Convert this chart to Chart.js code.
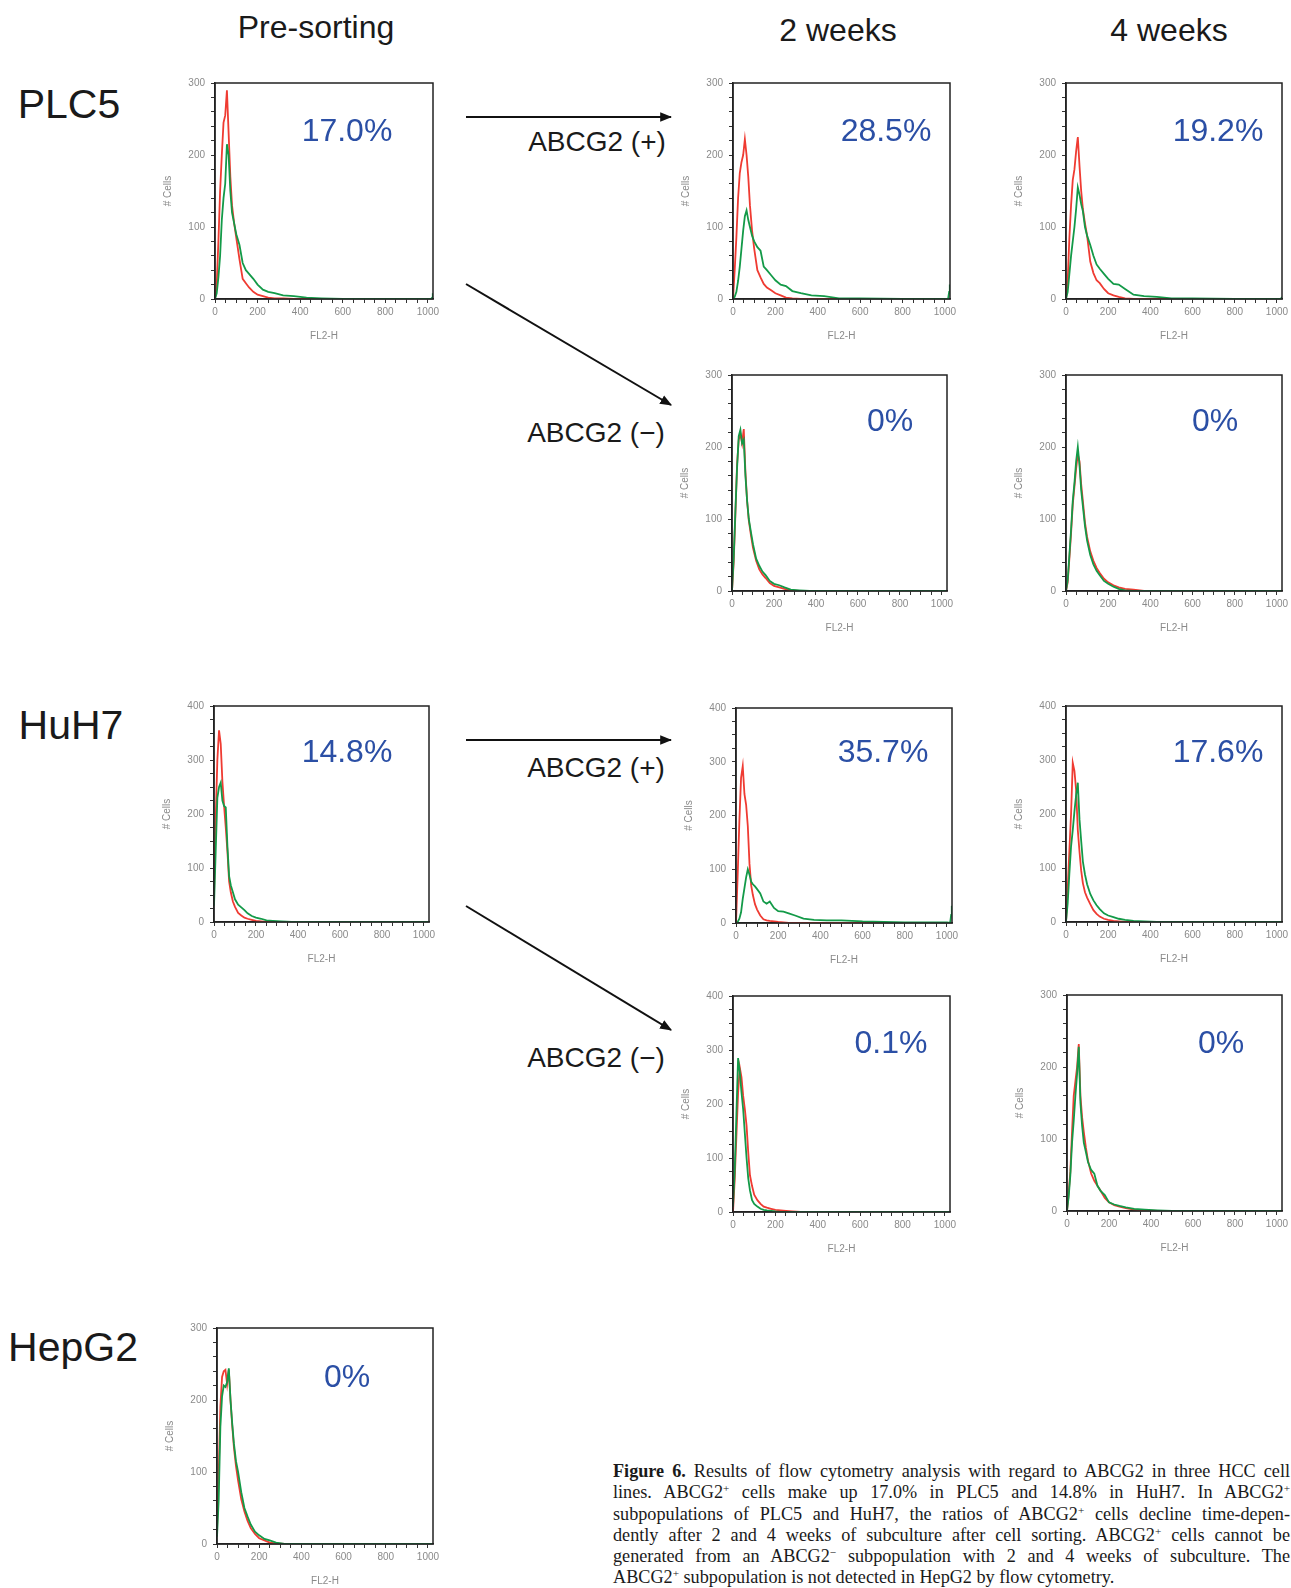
<!DOCTYPE html>
<html><head><meta charset="utf-8">
<script src="https://cdn.jsdelivr.net/npm/chart.js@4.4.1/dist/chart.umd.min.js"></script>
<style>
html,body{margin:0;padding:0;background:#fff;}
body{width:1291px;height:1588px;overflow:hidden;position:relative;font-family:"Liberation Sans",Arial,sans-serif;}
canvas{position:absolute;}
.c{position:absolute;transform:translate(-50%,-50%);white-space:nowrap;line-height:1;}
.hdr{font-size:32px;color:#1a1a1a;}
.row{font-size:41px;color:#1a1a1a;}
.arr{font-size:28px;color:#1a1a1a;}
.pct{font-size:32px;color:#2b4fa5;z-index:5;}
#cap{position:absolute;left:613px;top:1461px;width:677px;font-family:"Liberation Serif","DejaVu Serif",serif;font-size:18.2px;line-height:21.3px;color:#1a1a1a;}
#cap .j{text-align:justify;text-align-last:justify;}
#cap sup{font-size:0.62em;line-height:0;vertical-align:0.55em;}
svg{position:absolute;left:0;top:0;}
</style></head><body>

<script>
// ---------- DATA ----------
const channels = [0, 8, 16, 24, 32, 40, 48, 56, 64, 72, 80, 90, 100, 115, 130, 145, 160, 180, 200, 225, 250, 280, 320, 370, 430, 500, 600, 800, 1000, 1015, 1020, 1023];
const xTicks = [0, 200, 400, 600, 800, 1000];

const plc5PreRed     = [0,20,80,150,200,245,255,290,230,170,130,105,85,55,28,22,16,10,6,4,2,1,1,0,0,0,0,0,0,0,0,0];
const plc5PreGreen   = [0,8,30,60,110,140,160,215,200,150,120,105,90,75,50,40,35,28,20,13,10,8,5,4,2,1,0,0,0,0,2,8];
const plc5W2PosRed   = [0,40,86,140,175,190,200,222,200,170,130,95,70,40,30,21,16,12,8,5,2,1,0,0,0,0,0,0,0,0,0,0];
const plc5W2PosGreen = [0,3,10,25,45,70,95,115,123,110,100,88,80,72,67,45,40,33,26,20,18,11,8,5,4,1,1,0,0,0,10,20];
const plc5W4PosRed   = [0,25,85,130,165,180,205,225,185,150,125,105,88,52,36,26,22,14,8,5,3,1,0,0,0,0,0,0,0,0,0,0];
const plc5W4PosGreen = [0,10,35,60,80,100,125,155,145,132,122,100,88,75,60,48,42,35,28,21,20,14,6,4,3,1,1,0,0,0,1,3];
const plc5W2NegRed   = [0,40,105,175,210,218,205,225,165,125,98,78,60,42,30,23,18,11,7,5,3,1,0,0,0,0,0,0,0,0,0,0];
const plc5W2NegGreen = [0,45,110,170,215,224,205,210,160,125,100,82,65,45,35,27,22,14,10,8,5,2,1,0,0,0,0,0,0,0,0,0];
const plc5W4NegRed   = [0,12,45,80,120,145,170,190,180,148,125,95,75,55,42,32,25,17,12,8,5,3,2,0,0,0,0,0,0,0,0,0];
const plc5W4NegGreen = [0,15,50,85,125,150,180,200,175,140,118,90,70,50,37,28,22,14,10,6,3,1,0,0,0,0,0,0,0,0,0,0];
const huh7PreRed     = [50,190,300,355,330,260,215,175,130,75,55,38,28,17,12,8,6,4,2,1,0,0,0,0,0,0,0,0,0,0,0,0];
const huh7PreGreen   = [30,130,230,250,258,225,215,212,140,85,68,55,42,32,27,22,16,11,8,6,3,2,1,0,0,0,0,0,0,0,0,0];
const huh7W2PosRed   = [0,90,190,270,292,240,220,180,110,70,52,35,25,14,7,5,4,3,2,1,0,0,0,0,0,0,0,0,0,0,0,0];
const huh7W2PosGreen = [0,2,8,20,45,65,85,100,90,77,72,68,63,55,40,36,40,28,22,21,18,14,8,6,5,5,3,1,1,0,15,32];
const huh7W4PosRed   = [0,60,133,200,295,280,244,170,130,95,72,55,45,33,22,15,10,6,4,2,1,0,0,0,0,0,0,0,0,0,0,0];
const huh7W4PosGreen = [0,35,90,140,170,205,235,258,190,150,112,88,70,52,40,31,24,16,12,9,6,4,2,1,0,0,0,0,0,0,0,0];
const huh7W2NegRed   = [0,60,140,220,268,250,215,190,160,110,68,48,32,22,15,10,8,6,4,3,2,1,0,0,0,0,0,0,0,0,0,0];
const huh7W2NegGreen = [10,75,180,285,260,222,190,145,100,62,40,22,15,10,6,4,3,2,1,0,0,0,0,0,0,0,0,0,0,0,0,0];
const huh7W4NegRed   = [0,25,55,110,160,180,200,232,160,130,110,88,70,52,42,35,28,18,12,8,6,4,2,1,0,0,0,0,0,0,0,0];
const huh7W4NegGreen = [0,20,50,95,125,160,190,228,150,118,95,82,68,57,52,35,28,22,12,9,7,5,3,2,1,0,0,0,0,0,0,0];
const hepg2PreRed    = [20,98,191,232,240,242,222,242,200,165,135,108,88,62,45,32,22,14,8,5,2,1,0,0,0,0,0,0,0,0,0,0];
const hepg2PreGreen  = [10,61,163,205,220,218,225,244,200,168,140,115,100,72,50,38,27,17,12,7,5,2,0,0,0,0,0,0,0,0,0,0];

const redSeries   = [plc5PreRed, plc5W2PosRed, plc5W4PosRed, plc5W2NegRed, plc5W4NegRed, huh7PreRed, huh7W2PosRed, huh7W4PosRed, huh7W2NegRed, huh7W4NegRed, hepg2PreRed];
const greenSeries = [plc5PreGreen, plc5W2PosGreen, plc5W4PosGreen, plc5W2NegGreen, plc5W4NegGreen, huh7PreGreen, huh7W2PosGreen, huh7W4PosGreen, huh7W2NegGreen, huh7W4NegGreen, hepg2PreGreen];
const yMaxes      = [300, 300, 300, 300, 300, 400, 400, 400, 400, 300, 300];
const pctLabels   = ["17.0%", "28.5%", "19.2%", "0%", "0%", "14.8%", "35.7%", "17.6%", "0.1%", "0%", "0%"];

// ---------- LAYOUT (plot-area boxes: left, top, right, bottom) ----------
const boxes = [
  [215,83,433,299],[733,83,950,299],[1066,83,1282,299],
  [732,375,947,591],[1066,375,1282,591],
  [214,706,429,922],[736,708,952,923],[1066,706,1282,922],
  [733,996,950,1212],[1067,995,1282,1211],
  [217,1328,433,1544]
];
const pctPos = [[347,130],[886,130],[1218,130],[890,420],[1215,420],[347,751],[883,751],[1218,751],[891,1042],[1221,1042],[347,1376]];

const RED = '#ef3b32', GREEN = '#139a48', GRAY = '#8a8a8a', FONT = '"Liberation Sans", Arial, sans-serif';
const frame = {id:'frame', afterDraw(c){const a=c.chartArea,ctx=c.ctx;ctx.save();ctx.strokeStyle='#222';ctx.lineWidth=1.5;ctx.strokeRect(a.left,a.top,a.right-a.left,a.bottom-a.top);ctx.restore();}};

function makePanel(i){
  const [L,T,R,B] = boxes[i];
  const W = R-L, H = B-T, YW = 60, XH = 48, PT = 12, PR = 12;
  const cv = document.createElement('canvas');
  const cw = W+YW+PR, ch = H+PT+XH;
  cv.width = cw; cv.height = ch;
  cv.style.left=(L-YW)+'px'; cv.style.top=(T-PT)+'px';
  cv.style.width=cw+'px'; cv.style.height=ch+'px';
  document.body.appendChild(cv);
  const ymax = yMaxes[i];
  const ds = (arr,col)=>({data: channels.map((c,k)=>({x:c,y:arr[k]})), borderColor:col, borderWidth:1.8, pointRadius:0, tension:0, fill:false});
  new Chart(cv,{
    type:'line',
    data:{datasets:[ds(greenSeries[i],GREEN), ds(redSeries[i],RED)]},
    options:{
      responsive:false, animation:false, devicePixelRatio:1,
      layout:{padding:{top:PT,right:PR,left:0,bottom:0}},
      plugins:{legend:{display:false},tooltip:{enabled:false}},
      scales:{
        x:{type:'linear',min:0,max:1024,afterFit:s=>{s.height=XH;},
          ticks:{stepSize:50,includeBounds:false,autoSkip:false,maxRotation:0,minRotation:0,
            callback:v=> xTicks.includes(v)?String(v):'', font:{size:10,family:FONT}, color:GRAY, padding:3},
          grid:{drawOnChartArea:false,drawTicks:true,tickLength:4,tickColor:'#333',tickWidth:1},
          border:{display:true,color:'#222',width:1.5},
          title:{display:true,text:'FL2-H',align:'center',color:GRAY,font:{size:10,family:FONT},padding:{top:0,bottom:5}}},
        y:{type:'linear',min:0,max:ymax,afterFit:s=>{s.width=YW;},
          ticks:{stepSize: ymax===400?25:20, autoSkip:false,
            callback:v=> v%100===0?String(v):'', font:{size:10,family:FONT}, color:GRAY, padding:6},
          grid:{drawOnChartArea:false,drawTicks:true,tickLength:4,tickColor:'#333',tickWidth:1},
          border:{display:true,color:'#222',width:1.5},
          title:{display:true,text:'# Cells',color:GRAY,font:{size:10,family:FONT},padding:{top:7,bottom:0}}}
      }
    },
    plugins:[frame]
  });
  const p = document.createElement('div');
  p.className='c pct'; p.textContent=pctLabels[i];
  p.style.left=pctPos[i][0]+'px'; p.style.top=pctPos[i][1]+'px';
  document.body.appendChild(p);
}
window.addEventListener('DOMContentLoaded',()=>{ for(let i=0;i<boxes.length;i++) makePanel(i); });
</script>

<div class="c hdr" style="left:316px;top:27px;">Pre-sorting</div>
<div class="c hdr" style="left:838px;top:30px;">2 weeks</div>
<div class="c hdr" style="left:1169px;top:30px;">4 weeks</div>

<div class="c row" style="left:69px;top:104px;">PLC5</div>
<div class="c row" style="left:71px;top:725px;">HuH7</div>
<div class="c row" style="left:73px;top:1347px;">HepG2</div>

<div class="c arr" style="left:597px;top:142px;">ABCG2 (+)</div>
<div class="c arr" style="left:596px;top:433px;">ABCG2 (−)</div>
<div class="c arr" style="left:596px;top:768px;">ABCG2 (+)</div>
<div class="c arr" style="left:596px;top:1058px;">ABCG2 (−)</div>

<svg width="1291" height="1588">
  <defs><marker id="ah" viewBox="0 0 10 10" refX="9" refY="5" markerWidth="6" markerHeight="6" orient="auto-start-reverse" markerUnits="strokeWidth"><path d="M0,1 L10,5 L0,9 z" fill="#111"/></marker></defs>
  <line x1="466" y1="117" x2="671" y2="117" stroke="#111" stroke-width="2" marker-end="url(#ah)"/>
  <line x1="466" y1="284" x2="671" y2="405" stroke="#111" stroke-width="2" marker-end="url(#ah)"/>
  <line x1="466" y1="740" x2="671" y2="740" stroke="#111" stroke-width="2" marker-end="url(#ah)"/>
  <line x1="466" y1="906" x2="671" y2="1030" stroke="#111" stroke-width="2" marker-end="url(#ah)"/>
</svg>

<div id="cap">
<div class="j"><b>Figure 6.</b> Results of flow cytometry analysis with regard to ABCG2 in three HCC cell</div>
<div class="j">lines. ABCG2<sup>+</sup> cells make up 17.0% in PLC5 and 14.8% in HuH7. In ABCG2<sup>+</sup></div>
<div class="j">subpopulations of PLC5 and HuH7, the ratios of ABCG2<sup>+</sup> cells decline time-depen-</div>
<div class="j">dently after 2 and 4 weeks of subculture after cell sorting. ABCG2<sup>+</sup> cells cannot be</div>
<div class="j">generated from an ABCG2<sup>−</sup> subpopulation with 2 and 4 weeks of subculture. The</div>
<div>ABCG2<sup>+</sup> subpopulation is not detected in HepG2 by flow cytometry.</div>
</div>
</body></html>
